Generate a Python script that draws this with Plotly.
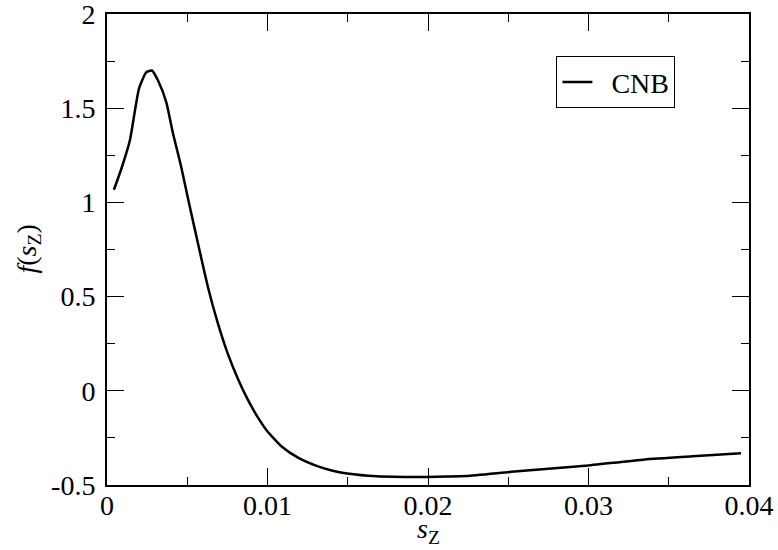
import plotly.graph_objects as go

# data
s_z = [0.00043, 0.0009, 0.00142, 0.0020, 0.00244, 0.0028, 0.0032, 0.0037, 0.0041, 0.0046,
       0.0051, 0.0057, 0.0063, 0.0069, 0.00754, 0.00816, 0.00878, 0.0094, 0.0100, 0.01094,
       0.0119, 0.0131, 0.0140, 0.01496, 0.0168, 0.0185, 0.0199, 0.0212, 0.0224, 0.0252,
       0.0275, 0.0298, 0.0335, 0.0365, 0.0395]
f_sz = [1.067, 1.18, 1.327, 1.606, 1.69, 1.70, 1.643, 1.53, 1.37, 1.197,
        1.0, 0.77, 0.547, 0.36, 0.193, 0.063, -0.048, -0.141, -0.216, -0.30,
        -0.355, -0.40, -0.423, -0.439, -0.454, -0.457, -0.457, -0.455, -0.452, -0.43,
        -0.414, -0.398, -0.364, -0.347, -0.331]

x_tickvals = [0, 0.01, 0.02, 0.03, 0.04]
x_ticktext = ["0", "0.01", "0.02", "0.03", "0.04"]
y_tickvals = [-0.5, 0, 0.5, 1, 1.5, 2]
y_ticktext = ["-0.5", "0", "0.5", "1", "1.5", "2"]

FAM = "Liberation Serif"
FS = 28

fig = go.Figure()
fig.add_trace(go.Scatter(x=s_z, y=f_sz, mode="lines", name="\u00a0\u00a0CNB",
                         line=dict(color="black", width=2.5, shape="spline", smoothing=0.5)))

fig.update_xaxes(
    range=[0, 0.04], tickvals=x_tickvals, ticktext=x_ticktext, automargin=False,
    showgrid=False, zeroline=False, showline=True, linecolor="black", linewidth=2,
    mirror="allticks", ticks="inside", ticklen=17, tickwidth=1.3, tickcolor="black",
    tickfont=dict(family=FAM, size=FS, color="black"), ticklabelstandoff=-6,
    ticklabeloverflow="allow",
    minor=dict(ticks="inside", ticklen=8, dtick=0.005, tick0=0, tickcolor="black", tickwidth=1.3),
)
fig.update_yaxes(
    range=[-0.5, 2], tickvals=y_tickvals, ticktext=y_ticktext, automargin=False,
    showgrid=False, zeroline=False, showline=True, linecolor="black", linewidth=2,
    mirror="allticks", ticks="inside", ticklen=17, tickwidth=1.3, tickcolor="black",
    tickfont=dict(family=FAM, size=FS, color="black"), ticklabelstandoff=4,
    ticklabeloverflow="allow",
    minor=dict(ticks="inside", ticklen=8, dtick=0.25, tick0=0, tickcolor="black", tickwidth=1.3),
)

fig.add_annotation(text="<i>s</i><sub>Z</sub>", xref="paper", yref="paper",
                   x=0.5, y=-0.137, xanchor="center", yanchor="bottom", showarrow=False,
                   font=dict(family=FAM, size=FS, color="black"))
fig.add_annotation(text="<i>f</i>(<i>s</i><sub>Z</sub>)", xref="paper", yref="paper",
                   x=-0.123, y=0.5, xanchor="center", yanchor="middle", textangle=-90,
                   showarrow=False, font=dict(family=FAM, size=FS, color="black"))

fig.update_layout(
    width=778, height=550,
    font=dict(family=FAM, size=FS, color="black"),
    margin=dict(l=107, r=29, t=14, b=65),
    plot_bgcolor="white", paper_bgcolor="white",
    showlegend=True,
    legend=dict(x=0.70, y=0.91, xanchor="left", yanchor="top",
                bgcolor="white", bordercolor="black", borderwidth=1,
                font=dict(family=FAM, size=FS, color="black"),
                itemwidth=30, tracegroupgap=0),
)

fig.write_html("out.html", config={"displayModeBar": False},
               post_script="document.body.style.margin='0';document.body.style.overflow='hidden';")
